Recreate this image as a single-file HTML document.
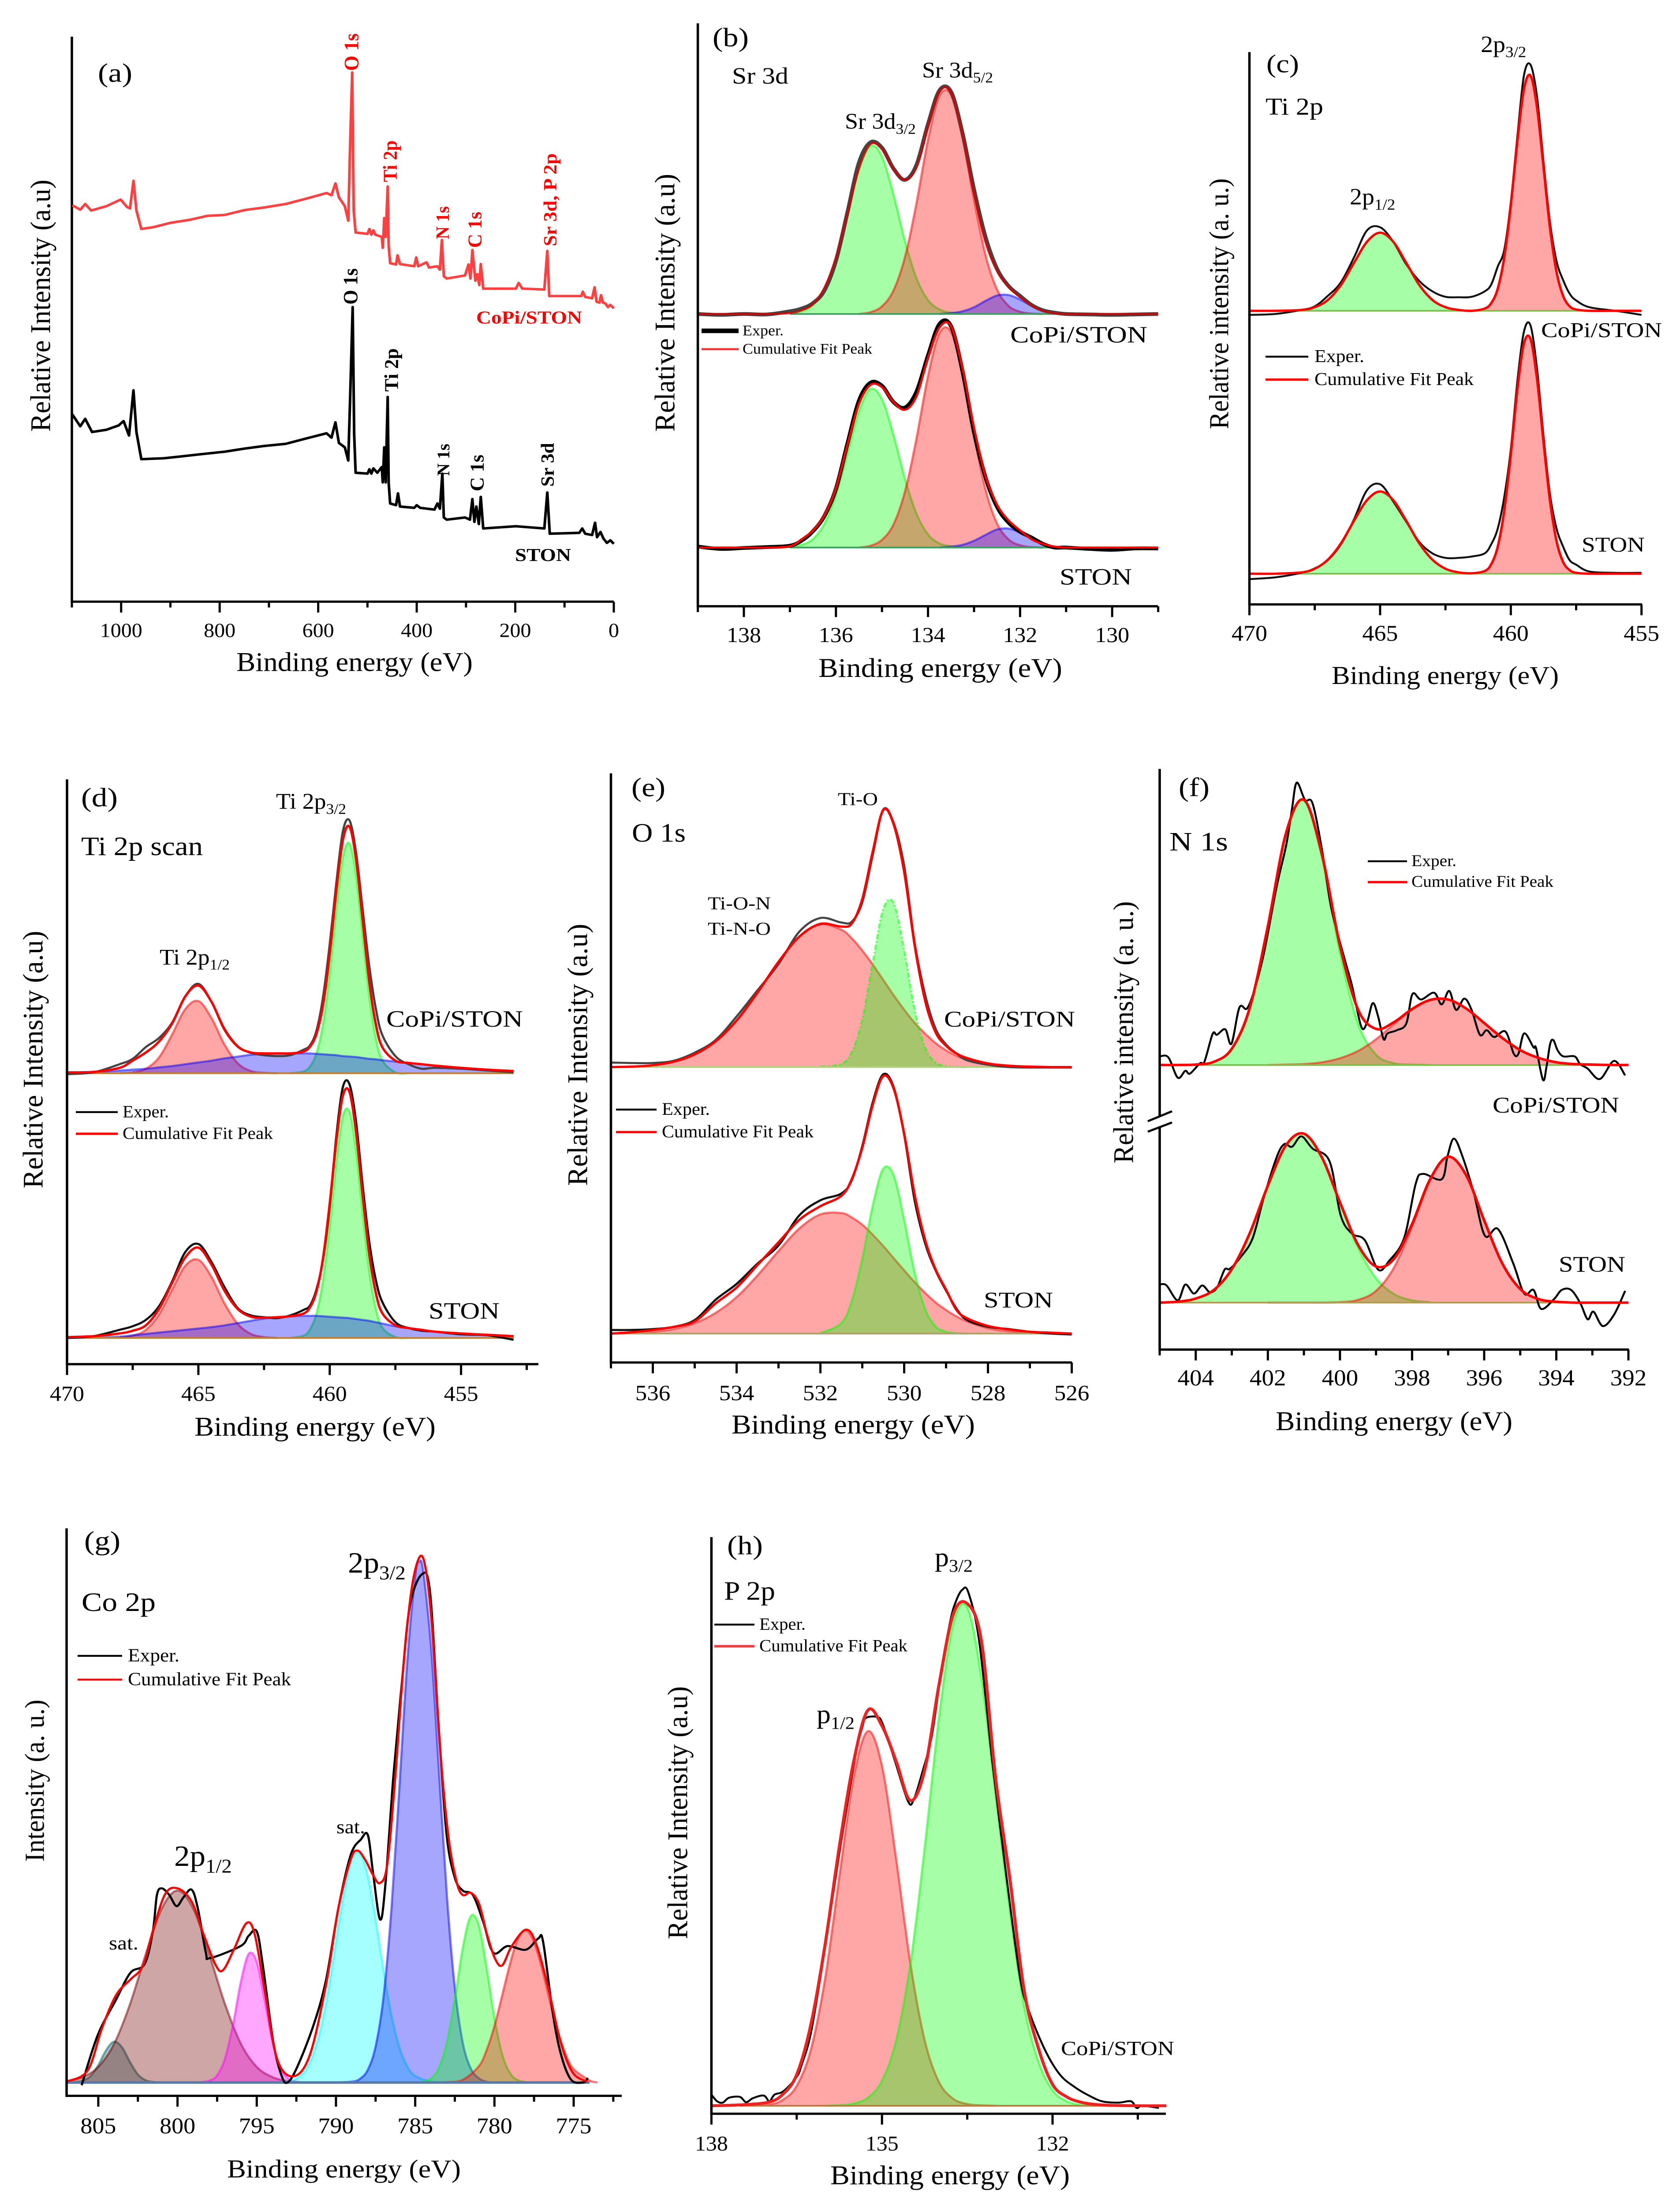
<!DOCTYPE html>
<html lang="en">
<head>
<meta charset="utf-8">
<title>XPS spectra of STON and CoPi/STON</title>
<style>
html,body{margin:0;padding:0;background:#fff;width:100%;height:100vh;overflow:hidden;}
svg{display:block;width:100vw;height:100vh;overflow:hidden;font-family:"Liberation Serif","DejaVu Serif",serif;}
</style>
</head>
<body>
<svg id="figure" xmlns="http://www.w3.org/2000/svg" viewBox="0 0 3810 5292" preserveAspectRatio="none">
<rect x="0" y="0" width="3810" height="5292" fill="#ffffff"></rect>
</svg>
<script>
/* ---------- Panel (a) survey data ---------- */
const aTicks=[1000,800,600,400,200,0];
const aMinor=[1100,900,700,500,300,100];
const aTopEnergy=[1099,1083,1073,1061,1030,1001,988,982,975,969,959,935,900,860,825,790,750,710,666,625,583,573,565,558,546,539,535,531,528,524,500,496,492,488,484,471,469,466,463,459,457,454,442,439,434,405,401,397,380,375,358,353,349,345,339,302,295,291,287,281,277,273,270,265,199,193,186,141,135,131,66,63,58,44,39,35,29,26,22,17,12,7,0];
const aTopValues=[904,894,907,892,902,917,900,897,960,892,850,854,864,871,880,882,893,899,907,919,932,927,954,922,902,869,1052,1207,892,842,839,850,837,847,837,832,807,875,832,947,812,772,769,790,770,765,785,765,774,762,765,757,825,742,737,744,769,737,802,732,747,722,770,714,714,727,714,712,800,697,697,707,695,692,717,684,682,699,682,680,672,677,669];
const aBottomEnergy=[1099,1083,1073,1059,1030,1005,995,984,975,969,959,914,880,840,790,750,710,666,625,583,573,565,558,546,539,535,530,527,524,500,496,492,488,480,471,469,466,463,459,457,454,442,438,434,405,400,393,364,358,353,348,345,339,302,292,287,283,279,274,270,265,199,141,135,130,70,64,58,44,38,34,27,21,14,7,0];
const aBottomValues=[427,400,417,387,392,402,412,379,482,387,325,327,331,336,342,349,355,360,372,384,374,409,362,352,322,472,672,382,294,292,302,292,304,294,307,272,352,272,467,272,224,220,247,217,214,220,214,210,224,212,292,192,187,192,187,234,182,217,177,239,167,172,167,249,155,157,167,155,152,180,147,159,144,134,140,132];

/* ---------- Panel (b) Sr 3d ---------- */
const bTicks=[138,136,134,132,130];
const bMinor=[139,137,135,133,131,129];
const bStackOffsets=[647,130];
const bEnergy=[139,138.5,138,137.5,137,136.75,136.5,136.25,136,135.75,135.5,135.25,135,134.75,134.5,134.25,134,133.75,133.5,133.25,133,132.75,132.5,132.25,132,131.75,131.5,131.25,131,130.5,130,129.5,129];
const bExperTop=[0,-2,0,-1,6,12,24,52,118,225,335,380,368,322,297,330,420,495,492,400,275,170,100,62,40,20,8,3,0,-1,-2,-1,0];
const bFitTop=[0,0,0,0,2,8,22,58,125,222,322,376,365,320,297,325,417,493,490,396,267,159,95,60,37,19,7,2,0,0,0,0,0];
const bExperBottom=[2,-3,-1,1,4,15,36,70,130,230,325,365,358,322,310,345,425,495,490,390,255,155,90,55,35,22,8,0,0,-3,-5,-2,-2];
const bFitBottom=[0,0,0,0,3,18,38,72,132,228,318,360,355,322,305,335,420,487,490,396,265,158,95,60,38,18,8,2,0,0,0,0,0];
const bGreenEnergy=[137,136.75,136.5,136.25,136,135.75,135.5,135.25,135,134.75,134.5,134.25,134,133.75,133.5,133.25];
const bGreenTop=[2,6,20,56,125,222,320,372,348,264,161,79,31,10,3,0];
const bGreenBottom=[1,6,19,53,118,209,302,351,328,249,152,75,29,9,3,0];
const bRedEnergy=[135.5,135.25,135,134.75,134.5,134.25,134,133.75,133.5,133.25,133,132.75,132.5,132.25,132,131.75,131.5];
const bRedTop=[0,4,17,52,126,246,386,483,485,390,252,130,54,18,5,1,0];
const bRedBottom=[0,4,17,51,124,242,380,475,477,384,248,128,53,18,5,1,0];
const bBlueEnergy=[133.75,133.5,133.25,133,132.75,132.5,132.25,132,131.75,131.5,131.25,131];
const bBlueTop=[0,2,6,15,29,41,42,32,18,7,2,0];
const bBlueBottom=[0,2,6,15,28,40,42,33,19,8,2,0];

/* ---------- Panel (c) Ti 2p ---------- */
const cTicks=[470,465,460,455];
const cMinor=[467.5,462.5,457.5];
const cStackOffsets=[650,68];
const cEnergy=[470,469,468,467.5,467,466.5,466,465.5,465,464.5,464,463.5,463,462.5,462,461.5,461,460.75,460.5,460.25,460,459.75,459.5,459.25,459,458.75,458.5,458.25,458,457.75,457.5,457,456,455];
const cExperTop=[-9,-7,2,10,33,63,118,178,185,153,103,66,43,31,30,31,43,58,98,135,240,385,520,545,475,330,195,110,68,38,23,8,0,-9];
const cFitTop=[0,0,2,8,24,57,106,153,173,153,106,57,24,8,2,0,5,17,49,119,234,375,490,521,451,319,183,86,33,10,3,0,0,0];
const cExperBottom=[-12,-8,2,12,30,65,120,185,198,160,115,70,45,35,35,38,45,65,100,170,275,425,535,550,455,305,175,100,60,30,20,5,2,2];
const cFitBottom=[0,0,3,11,31,67,117,163,182,163,117,67,31,11,3,1,6,21,60,140,264,407,509,520,432,292,161,72,26,8,2,0,0,0];
const cGreenEnergy=[468.5,468,467.5,467,466.5,466,465.5,465,464.5,464,463.5,463,462.5,462,461.5];
const cGreenTop=[0,2,8,24,57,106,153,173,153,106,57,24,8,2,0];
const cGreenBottom=[1,3,11,31,67,117,163,182,163,117,67,31,11,3,1];
const cRedEnergy=[461.5,461,460.75,460.5,460.25,460,459.75,459.5,459.25,459,458.75,458.5,458.25,458,457.75,457.5,457];
const cRedTop=[0,5,17,49,119,234,375,490,521,451,319,183,86,33,10,3,0];
const cRedBottom=[0,6,21,60,140,264,407,509,520,432,292,161,72,26,8,2,0];

/* ---------- Panel (d) Ti 2p scan ---------- */
const dTicks=[470,465,460,455];
const dMinor=[467.5,462.5,457.5,452.5];
const dStackOffsets=[644,58];
const dEnergy=[470,469,468,467.5,467,466.5,466,465.5,465,464.5,464,463.5,463,462.5,462,461.5,461,460.75,460.5,460.25,460,459.75,459.5,459.25,459,458.75,458.5,458.25,458,457.5,457,456.5,456,455,454,453];
const dBlueTop=[2,3,6,8,10,13,16,20,24,28,33,37,41,43,44,44,44,44,43,42,41,40,38,37,36,34,32,31,29,26,23,20,17,12,8,5];
const dBlueBottom=[0,1,3,6,9,12,15,18,21,24,28,33,38,43,46,48,49,49,49,48,47,46,45,44,42,40,38,35,32,26,22,18,14,10,7,4];
const dFitTop=[2,3,12,28,46,70,110,170,194,158,96,59,46,44,44,44,48,59,88,153,264,403,516,546,475,341,205,110,58,28,23,20,17,12,8,5];
const dExperTop=[-2,2,20,32,58,78,112,170,198,158,98,60,45,40,38,40,52,62,95,170,285,420,535,560,490,365,240,145,85,38,20,10,12,10,6,2];
const dFitBottom=[2,4,10,16,28,64,122,178,200,162,104,64,47,45,46,48,54,68,104,178,297,435,536,545,457,317,188,101,55,28,22,18,14,10,7,4];
const dExperBottom=[0,4,18,26,40,70,125,190,208,168,112,66,50,46,44,50,62,72,108,175,290,445,555,562,480,340,215,130,80,35,22,16,14,8,6,-4];
const dRedEnergy=[468,467.5,467,466.5,466,465.5,465,464.5,464,463.5,463,462.5,462];
const dRedTop=[0,2,10,35,86,142,160,122,63,22,5,1,0];
const dRedBottom=[1,5,18,52,107,160,173,135,76,31,9,2,0];
const dGreenEnergy=[461.5,461,460.75,460.5,460.25,460,459.75,459.5,459.25,459,458.75,458.5,458.25,458,457.5,457];
const dGreenTop=[0,4,15,45,111,223,363,478,509,439,307,173,79,29,2,0];
const dGreenBottom=[0,5,19,55,130,250,389,491,501,415,277,150,66,23,2,0];

/* ---------- Panel (e) O 1s ---------- */
const eTicks=[536,534,532,530,528,526];
const eMinor=[537,535,533,531,529,527];
const eStackOffsets=[654,64];
const eEnergy=[537,536.5,536,535.5,535,534.5,534,533.5,533,532.5,532,531.5,531.25,531,530.75,530.5,530.25,530,529.75,529.5,529.25,529,528.75,528.5,528,527.5,527,526.5,526];
const eRedTop=[0,1,4,12,28,57,103,165,233,289,316,304,285,258,227,193,159,127,98,74,53,37,25,17,7,2,1,0,0];
const eRedBottom=[0,1,4,10,23,46,81,129,183,233,264,267,257,241,219,194,167,140,114,90,69,52,38,27,12,5,2,0,0];
const eFitTop=[0,1,4,12,28,57,103,165,233,289,317,311,318,372,477,569,537,432,270,147,77,47,30,20,8,3,1,0,0];
const eExperTop=[10,9,9,14,32,60,112,170,228,300,330,320,322,365,470,570,540,445,275,160,85,50,30,15,5,0,-1,-1,-1];
const eFitBottom=[0,3,8,15,27,67,102,152,202,252,282,305,342,412,507,570,542,442,307,207,142,97,52,34,17,9,4,2,0];
const eExperBottom=[8,8,10,15,30,75,110,155,195,262,295,310,340,415,512,574,545,440,295,200,140,95,55,30,15,10,4,0,-2];
const eGreenEnergy=[532,531.5,531.25,531,530.75,530.5,530.25,530,529.75,529.5,529.25,529,528.75,528.5];
const eGreenTop=[1,7,33,105,231,350,363,259,127,43,10,2,0,0];
const eGreenBottom=[1,23,72,165,284,365,350,251,135,54,16,4,1,0];

/* ---------- Panel (f) N 1s ---------- */
const fTicks=[404,402,400,398,396,394,392];
const fMinor=[405,403,401,399,397,395,393];
const fStackOffsets=[630,104];
const fEnergy=[405,404.5,404,403.5,403,402.5,402,401.5,401,400.5,400,399.5,399,398.5,398,397.5,397,396.5,396,395.5,395,394.5,394,393.5,393,392.5,392];
const fFitTop=[0,0,1,7,36,127,307,512,587,466,264,123,80,95,124,144,145,125,93,60,33,16,6,2,1,0,0];
const fFitBottom=[0,2,9,28,74,154,259,348,374,321,222,128,80,97,174,273,323,282,182,87,30,8,2,0,0,0,0];
const fExperTopEnergy=[405,404.76,404.5,404.29,404.16,403.88,403.76,403.53,403.41,403.18,403.01,402.79,402.58,402.37,402.11,401.75,401.49,401.33,401.2,400.97,400.76,400.5,400.24,399.88,399.67,399.41,399.25,399.09,398.94,398.79,398.68,398.42,398.16,397.99,397.75,397.39,397.18,396.97,396.78,396.55,396.35,396.12,395.93,395.72,395.41,395.18,395.05,394.89,394.63,394.56,394.37,394.27,394.17,394.08,393.96,393.8,393.49,393.34,393.13,392.79,392.4,392.09];
const fExperTop=[19,17,-28,-13,-19,4,7,69,67,79,47,127,125,167,247,397,487,567,625,587,579,477,347,237,177,85,94,137,107,57,70,77,92,157,145,160,134,164,122,147,122,67,77,62,74,25,25,70,39,37,-33,-3,47,55,32,19,19,2,-8,-31,9,-23];
const fExperBottomEnergy=[405,404.81,404.5,404.29,404.05,403.82,403.61,403.41,403.2,403.05,402.73,402.42,402.11,401.75,401.54,401.33,401.07,400.76,400.29,399.98,399.67,399.31,398.94,398.63,398.22,397.9,397.7,397.18,397.02,396.84,396.6,396.29,395.98,395.62,395.2,394.89,394.63,394.42,394.06,393.85,393.59,393.33,393.13,392.97,392.71,392.4,392.09];
const fExperBottom=[40,38,5,40,20,38,23,33,73,75,103,143,233,323,351,345,368,341,313,193,153,138,73,93,143,263,285,273,323,363,323,243,148,163,88,20,28,-14,8,28,28,-2,-37,-20,-52,-27,26];
const fGreenEnergy=[404.5,404,403.5,403,402.5,402,401.5,401,400.5,400,399.5,399,398.5,398,397.5];
const fGreenTop=[0,1,7,36,127,307,511,585,460,249,92,23,4,1,0];
const fGreenBottom=[2,9,28,74,154,259,348,374,321,221,122,54,19,5,1];
const fRedEnergy=[402,401.5,401,400.5,400,399.5,399,398.5,398,397.5,397,396.5,396,395.5,395,394.5,394,393.5,393,392.5];
const fRedTop=[0,1,2,6,15,31,57,91,123,144,145,125,93,60,33,16,6,2,1,0];
const fRedBottom=[0,0,0,0,1,6,26,78,169,272,323,282,182,87,30,8,2,0,0,0];

/* ---------- Panel (g) Co 2p ---------- */
const gTicks=[805,800,795,790,785,780,775];
const gMinor=[802.5,797.5,792.5,787.5,782.5,777.5,772.5];
const gStackOffsets=[30];
const gTealEnergy=[807,806.5,806,805.5,805,804.5,804,803.5,803,802.5,802,801.5,801];
const gTealValues=[0,1,4,14,39,73,92,79,46,18,5,1,0];
const gBrownEnergy=[807,806,805,804,803,802,801,800,799,798,797,796,795,794,793,792];
const gBrownValues=[3,12,35,87,176,289,391,432,391,289,176,87,35,12,3,0];
const gMagentaEnergy=[799,798.5,798,797.5,797,796.5,796,795.5,795,794.5,794,793.5,793,792.5,792];
const gMagentaValues=[0,1,4,16,54,130,227,290,271,185,92,33,9,2,0];
const gCyanEnergy=[794,793,792.5,792,791.5,791,790.5,790,789.5,789,788.5,788,787.5,787,786.5,786,785.5,785,784,783];
const gCyanValues=[0,3,9,24,57,115,204,316,426,502,517,465,366,252,151,79,36,15,2,0];
const gBlueEnergy=[790,789,788.5,788,787.5,787,786.5,786,785.5,785,784.75,784.5,784,783.5,783,782.5,782,781.5,781,780.5,780,779];
const gBlueValues=[0,2,8,28,81,193,391,664,949,1140,1172,1152,980,701,421,213,90,32,10,2,0,0];
const gGreenEnergy=[785,784.5,784,783.5,783,782.5,782,781.5,781,780.5,780,779.5,779,778.5,778];
const gGreenValues=[0,2,9,33,90,188,303,374,355,259,145,62,20,5,1];
const gRedEnergy=[784,783,782,781,780.5,780,779.5,779,778.5,778,777.5,777,776.5,776,775.5,775,774,773.5];
const gRedValues=[0,1,6,36,72,127,198,270,325,342,316,257,183,115,63,30,5,0];
const gFitEnergy=[807,805.67,804.77,803.87,802.97,802.2,801.55,800.78,800,799.11,798.34,797.56,797.1,796.41,795.64,795.12,794.48,793.71,792.68,791.65,790.62,789.85,789.07,788.64,788.17,787.66,787.22,786.76,786.25,785.73,785.22,784.7,784.32,783.93,783.41,782.9,782.39,782,781.49,780.97,780.46,779.94,779.5,778.91,778.01,777.37,776.6,775.83,775.05,774.15];
const gFitValues=[2,27,122,197,232,262,342,424,437,407,332,262,254,302,359,332,202,52,14,62,222,392,502,522,502,467,449,492,692,942,1112,1184,1152,1022,742,552,452,422,427,402,332,277,264,307,344,312,212,92,22,2];
const gExperEnergy=[806.05,805.03,803.87,802.97,802.07,801.55,801.3,800.99,800.52,800.06,799.62,799.11,798.72,798.21,797.95,796.02,795.51,795,794.61,793.96,793.45,793.06,792.42,791.39,790.62,789.85,789.07,788.43,787.99,787.66,787.22,786.89,786.37,785.86,785.34,784.57,784.06,783.54,783.03,782.51,782,781.36,780.71,780.07,779.17,778.01,777.24,776.93,776.34,775.83,775.18,774.41,774.1];
const gExperValues=[-6,107,187,247,267,342,422,437,422,397,417,434,392,292,280,307,330,340,262,92,17,0,37,132,232,392,512,547,557,472,367,442,692,892,1072,1144,1102,812,562,462,432,422,362,292,307,299,324,317,162,67,7,0,10];

/* ---------- Panel (h) P 2p ---------- */
const hTicks=[138,135,132];
const hMinor=[136.5,133.5,130.5];
const hStackOffsets=[18];
const hEnergy=[138,137.5,137,136.75,136.5,136.25,136,135.75,135.5,135.25,135,134.75,134.5,134.25,134,133.75,133.5,133.25,133,132.75,132.5,132.25,132,131.75,131.5,131.25,131,130.5,130];
const hFitValues=[0,2,8,25,70,183,363,583,773,890,855,775,687,755,945,1105,1130,1045,735,510,260,130,48,20,8,3,1,0,0];
const hRedEnergy=[137.5,137,136.75,136.5,136.25,136,135.75,135.5,135.25,135,134.75,134.5,134.25,134,133.75,133.5,133.25,133];
const hRedValues=[0,3,13,45,127,287,516,738,843,765,555,320,148,54,16,4,1,0];
const hGreenEnergy=[136,135.75,135.5,135.25,135,134.75,134.5,134.25,134,133.75,133.5,133.25,133,132.75,132.5,132.25,132,131.75,131.5,131.25];
const hGreenValues=[0,1,5,18,56,147,320,580,871,1084,1121,962,700,440,225,100,35,10,2,0];
const hExperEnergy=[138,137.9,137.8,137.69,137.5,137.39,137.27,137.08,136.98,136.89,136.73,136.5,136.41,136.24,135.99,135.73,135.47,135.34,135.28,135.09,134.99,134.77,134.54,134.44,134.28,134.12,133.96,133.8,133.7,133.59,133.48,133.29,133.06,132.84,132.58,132.42,132.13,131.87,131.61,131.39,131.13,130.84,130.62,130.52,130.42,130.13];
const hExperValues=[25,10,7,18,20,8,17,23,10,25,33,65,93,170,365,585,785,855,873,875,860,775,685,690,755,835,975,1090,1135,1161,1155,1045,775,545,295,215,125,70,42,25,10,7,10,-5,0,-5];

/* ---------- Drawing helpers ---------- */
const NS='http://www.w3.org/2000/svg';
const root=document.getElementById('figure');
const GREEN='#00ff00',RED='#ff0000',BLUE='#0000ff',MAGENTA='#ff00ff',CYAN='#00ffff',MAROON='#750000',TEAL='#006060';

function make(tag,parent,name,props){
  const el=document.createElementNS(NS,tag);
  
  
  Object.keys(props||{}).forEach(function(k){el.setAttribute(k,props[k]);});
  parent.appendChild(el);
  return el;
}
function panel(name,eA,xA,eB,xB,axisY,topY,rightX,yZoom){
  const k=(xB-xA)/(eB-eA);
  return {
    g:make('g',root,name,{}),
    x:function(e){return xA+(e-eA)*k;},
    y:function(v){return axisY-v/yZoom;},
    axisY:axisY,topY:topY,rightX:rightX
  };
}
function pathFrom(pts,smooth){
  let d='M'+pts[0][0].toFixed(1)+' '+pts[0][1].toFixed(1);
  if(!smooth){
    for(let i=1;i<pts.length;i++){d+='L'+pts[i][0].toFixed(1)+' '+pts[i][1].toFixed(1);}
    return d;
  }
  for(let i=0;i<pts.length-1;i++){
    const p0=pts[Math.max(i-1,0)],p1=pts[i],p2=pts[i+1],p3=pts[Math.min(i+2,pts.length-1)];
    const c1x=p1[0]+(p2[0]-p0[0])/6,c1y=p1[1]+(p2[1]-p0[1])/6;
    const c2x=p2[0]-(p3[0]-p1[0])/6,c2y=p2[1]-(p3[1]-p1[1])/6;
    d+='C'+c1x.toFixed(1)+' '+c1y.toFixed(1)+' '+c2x.toFixed(1)+' '+c2y.toFixed(1)+' '+p2[0].toFixed(1)+' '+p2[1].toFixed(1);
  }
  return d;
}
function toPoints(p,energy,values,offset){
  return energy.map(function(e,i){return [p.x(e),p.y(offset+values[i])];});
}
function peak(p,name,energy,values,offset,color,dash){
  const pts=toPoints(p,energy,values,offset);
  const line=pathFrom(pts,true);
  const base=p.y(offset).toFixed(1);
  make('path',p.g,name+'-fill',{d:line+'L'+pts[pts.length-1][0].toFixed(1)+' '+base+'L'+pts[0][0].toFixed(1)+' '+base+'Z',fill:color,'fill-opacity':'0.35',stroke:'none'});
  const props={d:line,fill:'none',stroke:color,'stroke-opacity':'0.5','stroke-width':'5','stroke-linejoin':'round'};
  if(dash){props['stroke-dasharray']=dash;}
  make('path',p.g,name+'-outline',props);
}
function baseline(p,name,e1,e2,offset,color,width){
  make('line',p.g,name,{x1:p.x(e1),x2:p.x(e2),y1:p.y(offset),y2:p.y(offset),stroke:color,'stroke-width':width||4});
}
function curve(p,name,energy,values,offset,color,width,smooth,opacity){
  make('path',p.g,name,{d:pathFrom(toPoints(p,energy,values,offset),smooth),fill:'none',stroke:color,'stroke-width':width,'stroke-linejoin':'round','stroke-opacity':opacity||1});
}
function axes(p,ticks,minor,tickSize,tickY,leftEnergy){
  const left=p.x(leftEnergy);
  make('line',p.g,'y-axis',{x1:left,x2:left,y1:p.topY,y2:p.axisY+2.5,stroke:'#000','stroke-width':'5.5'});
  make('line',p.g,'x-axis',{x1:left-2.5,x2:p.rightX,y1:p.axisY,y2:p.axisY,stroke:'#000','stroke-width':'5.5'});
  ticks.forEach(function(t){
    make('line',p.g,'x-major-tick',{x1:p.x(t),x2:p.x(t),y1:p.axisY,y2:p.axisY+26,stroke:'#000','stroke-width':'5'});
    const lab=make('text',p.g,'x-tick-label',{x:p.x(t),y:tickY+tickSize*0.33,'font-size':tickSize,'text-anchor':'middle',fill:'#000'});
    lab.textContent=String(t);
  });
  minor.forEach(function(t){
    make('line',p.g,'x-minor-tick',{x1:p.x(t),x2:p.x(t),y1:p.axisY,y2:p.axisY+14,stroke:'#000','stroke-width':'5'});
  });
}
function label(p,name,text,x1,x2,yc,size,fill,bold){
  const el=make('text',p.g,name,{x:x1,y:yc+size*0.3,'font-size':size,fill:fill||'#000',textLength:x2-x1,lengthAdjust:'spacingAndGlyphs'});
  if(bold){el.setAttribute('font-weight','bold');}
  el.textContent=text;
}
function subLabel(p,name,main,sub,x,yc,size){
  const el=make('text',p.g,name,{x:x,y:yc+size*0.3,'font-size':size,fill:'#000'});
  el.appendChild(document.createTextNode(main));
  const s=document.createElementNS(NS,'tspan');
  s.setAttribute('font-size',size*0.66);
  s.setAttribute('dy',size*0.22);
  s.textContent=sub;
  el.appendChild(s);
}
function vLabel(p,name,text,xc,y1,y2,size,fill,bold){
  const bx=xc+size*0.33;
  const el=make('text',p.g,name,{x:bx,y:y2,'font-size':size,fill:fill||'#000',textLength:y2-y1,lengthAdjust:'spacingAndGlyphs',transform:'rotate(-90 '+bx+' '+y2+')'});
  if(bold){el.setAttribute('font-weight','bold');}
  el.textContent=text;
}
function legend(p,x1,x2,y1,y2,tx1,tx2,tx3,size,w1,w2,c1){
  make('line',p.g,'legend-exper-line',{x1:x1,x2:x2,y1:y1,y2:y1,stroke:'#000','stroke-width':w1});
  label(p,'legend-exper-label','Exper.',tx1,tx2,y1,size);
  make('line',p.g,'legend-fit-line',{x1:x1,x2:x2,y1:y2,y2:y2,stroke:c1,'stroke-width':w2});
  label(p,'legend-fit-label','Cumulative Fit Peak',tx1,tx3,y2,size);
}

/* ---------- Panel a ---------- */
const pa=panel('panel-a',1100,163,0,1392,1444,88,1392,0.9503);
axes(pa,aTicks,aMinor,48,1513,1100);
curve(pa,'copi-ston-survey-line',aTopEnergy,aTopValues,0,'#ff4040',6,false);
curve(pa,'ston-survey-line',aBottomEnergy,aBottomValues,0,'#000',6,false);
label(pa,'panel-letter-a','(a)',222,300,177,64);
label(pa,'x-axis-title','Binding energy (eV)',536,1072,1591,65);
vLabel(pa,'y-axis-title','Relative Intensity (a.u)',92,431,1036,65);
vLabel(pa,'peak-label-o1s-red','O 1s',797,80,170,47,'#ff0000',true);
vLabel(pa,'peak-label-ti2p-red','Ti 2p',885,337,437,44,'#ff0000',true);
vLabel(pa,'peak-label-n1s-red','N 1s',1004,495,574,42,'#ff0000',true);
vLabel(pa,'peak-label-c1s-red','C 1s',1077,508,595,44,'#ff0000',true);
vLabel(pa,'peak-label-sr3d-p2p-red','Sr 3d, P 2p',1248,368,591,42,'#ff0000',true);
vLabel(pa,'peak-label-o1s-black','O 1s',795,644,731,47,'#000',true);
vLabel(pa,'peak-label-ti2p-black','Ti 2p',888,836,940,44,'#000',true);
vLabel(pa,'peak-label-n1s-black','N 1s',1006,1065,1142,40,'#000',true);
vLabel(pa,'peak-label-c1s-black','C 1s',1082,1091,1179,44,'#000',true);
vLabel(pa,'peak-label-sr3d-black','Sr 3d',1242,1063,1168,42,'#000',true);
label(pa,'copi-ston-label','CoPi/STON',1080,1320,763,44,'#ff0000',true);
label(pa,'ston-label','STON',1168,1295,1333,44,'#000',true);

/* ---------- Panel b ---------- */
const pb=panel('panel-b',139,1582.6,129,2626.6,1455,56,2626,0.9224);
peak(pb,'sr3d32-top',bGreenEnergy,bGreenTop,bStackOffsets[0],GREEN);
peak(pb,'sr3d52-top',bRedEnergy,bRedTop,bStackOffsets[0],RED);
peak(pb,'sr-shoulder-top',bBlueEnergy,bBlueTop,bStackOffsets[0],BLUE);
peak(pb,'sr3d32-bottom',bGreenEnergy,bGreenBottom,bStackOffsets[1],GREEN);
peak(pb,'sr3d52-bottom',bRedEnergy,bRedBottom,bStackOffsets[1],RED);
peak(pb,'sr-shoulder-bottom',bBlueEnergy,bBlueBottom,bStackOffsets[1],BLUE);
baseline(pb,'baseline-top',137,131,bStackOffsets[0],'#3f9f5f');
baseline(pb,'baseline-bottom',137,131,bStackOffsets[1],'#3f9f5f');
curve(pb,'exper-top',bEnergy,bExperTop,bStackOffsets[0],'#444',9,true);
curve(pb,'fit-top',bEnergy,bFitTop,bStackOffsets[0],'#e00000',5,true,0.8);
curve(pb,'exper-bottom',bEnergy,bExperBottom,bStackOffsets[1],'#000',9,true);
curve(pb,'fit-bottom',bEnergy,bFitBottom,bStackOffsets[1],'#ff0000',5,true);
axes(pb,bTicks,bMinor,52,1524,139);
label(pb,'panel-letter-b','(b)',1616,1698,92,64);
label(pb,'core-level-title','Sr 3d',1660,1788,184,56);
subLabel(pb,'sr3d32-label','Sr 3d','3/2',1916,293,54);
subLabel(pb,'sr3d52-label','Sr 3d','5/2',2091,170,54);
legend(pb,1591,1675,794,838,1684,1777,1978,36,11,5,'#ff3030');
label(pb,'copi-ston-label','CoPi/STON',2291,2602,805,56);
label(pb,'ston-label','STON',2403,2567,1386,56);
label(pb,'x-axis-title','Binding energy (eV)',1856,2409,1605,65);
vLabel(pb,'y-axis-title','Relative Intensity (a.u)',1508,417,1036,65);

/* ---------- Panel c ---------- */
const pc=panel('panel-c',470,2833.5,455,3722.7,1450.6,125,3724,0.9224);
peak(pc,'ti2p12-top',cGreenEnergy,cGreenTop,cStackOffsets[0],GREEN);
peak(pc,'ti2p32-top',cRedEnergy,cRedTop,cStackOffsets[0],RED);
peak(pc,'ti2p12-bottom',cGreenEnergy,cGreenBottom,cStackOffsets[1],GREEN);
peak(pc,'ti2p32-bottom',cRedEnergy,cRedBottom,cStackOffsets[1],RED);
baseline(pc,'baseline-top',468.5,457,cStackOffsets[0],'#7cc04a');
baseline(pc,'baseline-bottom',468.5,457,cStackOffsets[1],'#7cc04a');
curve(pc,'exper-top',cEnergy,cExperTop,cStackOffsets[0],'#111',4.5,true);
curve(pc,'fit-top',cEnergy,cFitTop,cStackOffsets[0],'#ff0000',5.5,true);
curve(pc,'exper-bottom',cEnergy,cExperBottom,cStackOffsets[1],'#111',4.5,true);
curve(pc,'fit-bottom',cEnergy,cFitBottom,cStackOffsets[1],'#ff0000',5.5,true);
axes(pc,cTicks,cMinor,54,1520,470);
label(pc,'panel-letter-c','(c)',2872,2946,155,62);
label(pc,'core-level-title','Ti 2p',2870,3001,258,58);
subLabel(pc,'ti2p32-label','2p','3/2',3358,108,56);
subLabel(pc,'ti2p12-label','2p','1/2',3061,474,56);
legend(pc,2870,2967,856,911,2981,3094,3342,44,4.5,5.5,'#ff0000');
label(pc,'copi-ston-label','CoPi/STON',3495,3769,794,50);
label(pc,'ston-label','STON',3587,3730,1309,50);
label(pc,'x-axis-title','Binding energy (eV)',3020,3535,1623,62);
vLabel(pc,'y-axis-title','Relative intensity (a. u.)',2765,428,1030,62);

/* ---------- Panel d ---------- */
const pd=panel('panel-d',470,152,455,1045.6,3274,1870.5,1221,0.9224);
peak(pd,'ti2p12-top',dRedEnergy,dRedTop,dStackOffsets[0],RED);
peak(pd,'ti2p32-top',dGreenEnergy,dGreenTop,dStackOffsets[0],GREEN);
peak(pd,'broad-background-top',dEnergy,dBlueTop,dStackOffsets[0],BLUE);
peak(pd,'ti2p12-bottom',dRedEnergy,dRedBottom,dStackOffsets[1],RED);
peak(pd,'ti2p32-bottom',dGreenEnergy,dGreenBottom,dStackOffsets[1],GREEN);
peak(pd,'broad-background-bottom',dEnergy,dBlueBottom,dStackOffsets[1],BLUE);
baseline(pd,'baseline-top',470,453,dStackOffsets[0],'#c08030');
baseline(pd,'baseline-bottom',470,453,dStackOffsets[1],'#c08030');
curve(pd,'exper-top',dEnergy,dExperTop,dStackOffsets[0],'#444',5,true);
curve(pd,'fit-top',dEnergy,dFitTop,dStackOffsets[0],'#ff0000',5.5,true);
curve(pd,'exper-bottom',dEnergy,dExperBottom,dStackOffsets[1],'#111',5,true);
curve(pd,'fit-bottom',dEnergy,dFitBottom,dStackOffsets[1],'#ff0000',5.5,true);
axes(pd,dTicks,dMinor,52,3345,470);
label(pd,'panel-letter-d','(d)',184,267,1916,64);
label(pd,'core-level-title','Ti 2p scan',184,460,2033,64);
subLabel(pd,'ti2p32-label','Ti 2p','3/2',626,1925,54);
subLabel(pd,'ti2p12-label','Ti 2p','1/2',362,2299,54);
legend(pd,172,267,2669,2721,278,383,619,41,4.5,5.5,'#ff0000');
label(pd,'copi-ston-label','CoPi/STON',876,1186,2447,56);
label(pd,'ston-label','STON',972,1133,3148,56);
label(pd,'x-axis-title','Binding energy (eV)',441,988,3426,65);
vLabel(pd,'y-axis-title','Relative Intensity (a.u)',75,2234,2852,65);

/* ---------- Panel e ---------- */
const pe=panel('panel-e',537,1385.5,526,2430.6,3270,1856,2431,0.9224);
peak(pe,'ti-o-n-top',eEnergy,eRedTop,eStackOffsets[0],RED);
peak(pe,'ti-o-top',eGreenEnergy,eGreenTop,eStackOffsets[0],GREEN,'12 5 4 5');
peak(pe,'ti-o-n-bottom',eEnergy,eRedBottom,eStackOffsets[1],RED);
peak(pe,'ti-o-bottom',eGreenEnergy,eGreenBottom,eStackOffsets[1],GREEN);
baseline(pe,'baseline-top',537,526,eStackOffsets[0],'#b0d080');
baseline(pe,'baseline-bottom',537,526,eStackOffsets[1],'#b0a060');
curve(pe,'exper-top',eEnergy,eExperTop,eStackOffsets[0],'#444',5,true);
curve(pe,'fit-top',eEnergy,eFitTop,eStackOffsets[0],'#ff0000',5.5,true);
curve(pe,'exper-bottom',eEnergy,eExperBottom,eStackOffsets[1],'#111',5,true);
curve(pe,'fit-bottom',eEnergy,eFitBottom,eStackOffsets[1],'#ff0000',5.5,true);
axes(pe,eTicks,eMinor,53,3343,537);
label(pe,'panel-letter-e','(e)',1432,1509,1892,64);
label(pe,'core-level-title','O 1s',1433,1555,2001,64);
label(pe,'ti-o-label','Ti-O',1900,1991,1919,44);
label(pe,'ti-o-n-label','Ti-O-N',1605,1748,2169,44);
label(pe,'ti-n-o-label','Ti-N-O',1605,1748,2230,44);
legend(pe,1397,1489,2663,2717,1501,1610,1845,42,4.5,5.5,'#ff0000');
label(pe,'copi-ston-label','CoPi/STON',2141,2438,2448,54);
label(pe,'ston-label','STON',2231,2388,3122,54);
label(pe,'x-axis-title','Binding energy (eV)',1659,2211,3421,65);
vLabel(pe,'y-axis-title','Relative Intensity (a.u)',1310,2217,2846,65);

/* ---------- Panel f ---------- */
const pf=panel('panel-f',405,2630,392,3693,3239,1845.5,3694,0.9224);
peak(pf,'n1s-high-top',fGreenEnergy,fGreenTop,fStackOffsets[0],GREEN);
peak(pf,'n1s-low-top',fRedEnergy,fRedTop,fStackOffsets[0],RED);
peak(pf,'n1s-high-bottom',fGreenEnergy,fGreenBottom,fStackOffsets[1],GREEN);
peak(pf,'n1s-low-bottom',fRedEnergy,fRedBottom,fStackOffsets[1],RED);
baseline(pf,'baseline-top',404.5,392.5,fStackOffsets[0],'#7cc04a');
baseline(pf,'baseline-bottom',404.5,392.5,fStackOffsets[1],'#b09a50');
curve(pf,'exper-top',fExperTopEnergy,fExperTop,fStackOffsets[0],'#000',4.5,true);
curve(pf,'fit-top',fEnergy,fFitTop,fStackOffsets[0],'#ff0000',6,true);
curve(pf,'exper-bottom',fExperBottomEnergy,fExperBottom,fStackOffsets[1],'#000',4.5,true);
curve(pf,'fit-bottom',fEnergy,fFitBottom,fStackOffsets[1],'#ff0000',6,true);
axes(pf,fTicks,fMinor,55,3307,405);
make('polygon',pf.g,'axis-break-gap',{points:'2622,2680 2640,2674 2640,2700 2622,2706',fill:'#fff'});
make('line',pf.g,'axis-break-mark-upper',{x1:2603,y1:2691,x2:2658,y2:2667,stroke:'#000','stroke-width':'5'});
make('line',pf.g,'axis-break-mark-lower',{x1:2603,y1:2716,x2:2658,y2:2694,stroke:'#000','stroke-width':'5'});
label(pf,'panel-letter-f','(f)',2673,2743,1892,64);
label(pf,'core-level-title','N 1s',2652,2785,2022,64);
legend(pf,3102,3191,2067,2117,3201,3303,3523,39,4.5,5.5,'#ff0000');
label(pf,'copi-ston-label','CoPi/STON',3385,3672,2654,54);
label(pf,'ston-label','STON',3535,3686,3036,54);
label(pf,'x-axis-title','Binding energy (eV)',2893,3430,3413,65);
vLabel(pf,'y-axis-title','Relative intensity (a. u.)',2548,2163,2792,65);

/* ---------- Panel g ---------- */
const pg=panel('panel-g',805,222.9,775,1301,5030,3668,1410,0.9378);
peak(pg,'satellite-804',gTealEnergy,gTealValues,gStackOffsets[0],TEAL);
peak(pg,'co2p12-main',gBrownEnergy,gBrownValues,gStackOffsets[0],MAROON);
peak(pg,'co2p12-795',gMagentaEnergy,gMagentaValues,gStackOffsets[0],MAGENTA);
peak(pg,'satellite-789',gCyanEnergy,gCyanValues,gStackOffsets[0],CYAN);
peak(pg,'co2p32-main',gBlueEnergy,gBlueValues,gStackOffsets[0],BLUE);
peak(pg,'co2p32-781',gGreenEnergy,gGreenValues,gStackOffsets[0],GREEN);
peak(pg,'co2p32-778',gRedEnergy,gRedValues,gStackOffsets[0],RED);
baseline(pg,'baseline',807,774,gStackOffsets[0],'#5a78a8',6);
curve(pg,'exper',gExperEnergy,gExperValues,gStackOffsets[0],'#000',5,true);
curve(pg,'fit',gFitEnergy,gFitValues,gStackOffsets[0],'#ff0000',5,true);
axes(pg,gTicks,gMinor,54,5102,807);
label(pg,'panel-letter-g','(g)',191,273,3700,64);
label(pg,'core-level-title','Co 2p',185,353,3847,64);
legend(pg,176,277,3974,4031,290,407,660,45,4.5,4.5,'#ff0000');
subLabel(pg,'co2p32-label','2p','3/2',789,3753,71);
subLabel(pg,'co2p12-label','2p','1/2',395,4457,71);
label(pg,'satellite-label-right','sat.',763,828,4386,46);
label(pg,'satellite-label-left','sat.',247,314,4665,46);
label(pg,'x-axis-title','Binding energy (eV)',515,1045,5207,62);
vLabel(pg,'y-axis-title','Intensity (a. u.)',79,4079,4468,62);

/* ---------- Panel h ---------- */
const ph=panel('panel-h',138,1613.4,132,2387,5073,3689,2644,0.9378);
peak(ph,'p2p12',hRedEnergy,hRedValues,hStackOffsets[0],RED);
peak(ph,'p2p32',hGreenEnergy,hGreenValues,hStackOffsets[0],GREEN);
baseline(ph,'baseline',137.5,131,hStackOffsets[0],'#c07a40');
curve(ph,'exper',hExperEnergy,hExperValues,hStackOffsets[0],'#000',4.5,true);
curve(ph,'fit',hEnergy,hFitValues,hStackOffsets[0],'#ee2020',7,true);
axes(ph,hTicks,hMinor,50,5145,138);
label(ph,'panel-letter-h','(h)',1649,1730,3711,64);
label(ph,'core-level-title','P 2p',1642,1758,3820,64);
legend(ph,1620,1711,3899,3951,1722,1827,2058,41,4.5,6,'#f04040');
subLabel(ph,'p2p32-label','p','3/2',2120,3739,64);
subLabel(ph,'p2p12-label','p','1/2',1852,4116,64);
label(ph,'copi-ston-label','CoPi/STON',2406,2663,4918,48);
label(ph,'x-axis-title','Binding energy (eV)',1883,2426,5223,65);
vLabel(ph,'y-axis-title','Relative Intensity (a.u)',1537,4047,4654,65);
</script>
</body>
</html>
